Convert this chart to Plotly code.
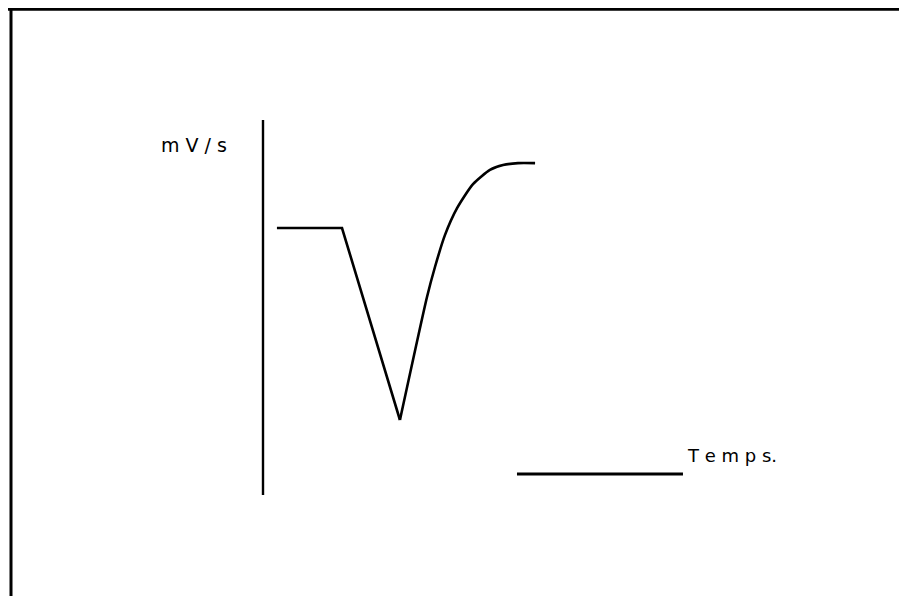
import plotly.graph_objects as go

# Signal trace (time in arbitrary units, signal in mV/s arbitrary units)
time_down = [0.84, 4.76, 8.25]
signal_down = [71.2, 71.2, 20.0]

time_up = [8.25, 9.88, 10.36, 10.96, 11.69, 12.65, 13.67, 14.46, 15.36, 16.39]
signal_up = [20.0, 52.8, 60.8, 69.3, 76.5, 82.9, 86.7, 88.0, 88.5, 88.5]

# vertical (signal) axis
axis_t = [0.0, 0.0]
axis_v = [0.0, 100.0]

# time scale bar
scale_t = [15.3, 25.3]
scale_v = [5.6, 5.6]

y_label = "m V / s"
x_label = "T e m p s."

line = dict(color="black", width=2.6)

fig = go.Figure()
fig.add_trace(go.Scatter(x=axis_t, y=axis_v, mode="lines", line=dict(color="black", width=2.4)))
fig.add_trace(go.Scatter(x=time_down, y=signal_down, mode="lines", line=line))
fig.add_trace(go.Scatter(x=time_up, y=signal_up, mode="lines", line_shape="spline",
                         line=dict(color="black", width=2.6, smoothing=0.6)))
fig.add_trace(go.Scatter(x=scale_t, y=scale_v, mode="lines", line=dict(color="black", width=2.8)))

fig.add_annotation(x=-2.05, y=93.3, text=y_label, showarrow=False, xanchor="right", yanchor="middle",
                   font=dict(family="DejaVu Sans", size=19, color="black"))
fig.add_annotation(x=25.4, y=10.6, text=x_label, showarrow=False, xanchor="left", yanchor="middle",
                   font=dict(family="DejaVu Sans", size=18, color="black"))

# scan frame (top and left borders)
fig.add_shape(type="line", xref="paper", yref="paper", x0=0, x1=1, y0=1-1.2/596, y1=1-1.2/596,
              line=dict(color="black", width=3))
fig.add_shape(type="line", xref="paper", yref="paper", x0=3/907, x1=3/907, y0=0, y1=1,
              line=dict(color="black", width=3))

fig.update_layout(
    width=907, height=596,
    margin=dict(l=0, r=0, t=0, b=0),
    paper_bgcolor="white", plot_bgcolor="white",
    showlegend=False,
    xaxis=dict(range=[-15.361, 39.277], visible=False, fixedrange=True),
    yaxis=dict(range=[-29.07, 129.87], visible=False, fixedrange=True),
)
fig.write_html("out.html", config={"displayModeBar": False})
